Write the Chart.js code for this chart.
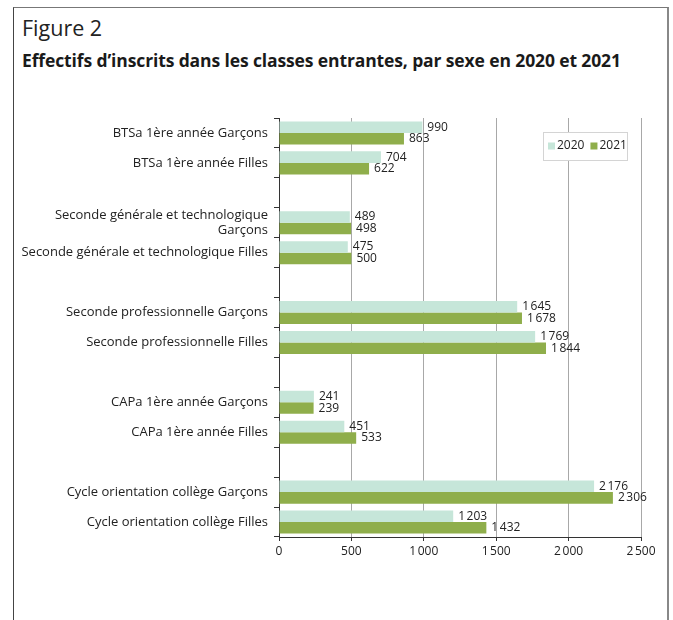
<!DOCTYPE html>
<html>
<head>
<meta charset="utf-8">
<script src="https://cdn.jsdelivr.net/npm/chart.js@4/dist/chart.umd.min.js"></script>
<style>
  html, body { margin: 0; padding: 0; background: #fff; }
  #wrap { position: relative; width: 673px; height: 620px; overflow: hidden; }
  #frame { position: absolute; left: 13px; top: 7px; width: 653px; height: 700px;
           border-left: 1px solid #444; border-top: 1px solid #777; border-right: 2px solid #888; }
  #t1 { position: absolute; left: 22px; top: 13px; font: 400 21.5px "Open Sans", sans-serif; color: #222; }
  #t2 { position: absolute; left: 22px; top: 48px; font: 700 17.5px "Open Sans", sans-serif; color: #1a1a1a; letter-spacing: -0.12px; white-space: nowrap; }
  canvas { position: absolute; left: 0; top: 0; }
</style>
</head>
<body>
<div id="wrap">
  <div id="frame"></div>
  <div id="t1">Figure 2</div>
  <div id="t2">Effectifs d’inscrits dans les classes entrantes, par sexe en 2020 et 2021</div>
  <canvas id="c" width="673" height="620"></canvas>
</div>
<script>
const categories = [
  "BTSa 1ère année Garçons",
  "BTSa 1ère année Filles",
  "",
  ["Seconde générale et technologique", "Garçons"],
  "Seconde générale et technologique Filles",
  "",
  "Seconde professionnelle Garçons",
  "Seconde professionnelle Filles",
  "",
  "CAPa 1ère année Garçons",
  "CAPa 1ère année Filles",
  "",
  "Cycle orientation collège Garçons",
  "Cycle orientation collège Filles"
];
const values2020 = [990, 704, null, 489, 475, null, 1645, 1769, null, 241, 451, null, 2176, 1203];
const values2021 = [863, 622, null, 498, 500, null, 1678, 1844, null, 239, 533, null, 2306, 1432];
const seriesNames = ["2020", "2021"];
const xTicks = [0, 500, 1000, 1500, 2000, 2500];

const fmt = v => {
  const s = String(Math.round(v));
  return s.replace(/\B(?=(\d{3})+(?!\d))/g, "\u202F");
};
const FONT = '"Open Sans", sans-serif';

const labelPlugin = {
  id: 'barLabels',
  afterDatasetsDraw(chart) {
    const ctx = chart.ctx;
    ctx.save();
    ctx.font = '12px ' + FONT;
    ctx.fillStyle = '#222';
    ctx.textAlign = 'left';
    ctx.textBaseline = 'middle';
    chart.data.datasets.forEach((ds, di) => {
      const meta = chart.getDatasetMeta(di);
      meta.data.forEach((el, i) => {
        const v = ds.data[i];
        if (v == null) return;
        ctx.fillText(fmt(v), el.x + 5, el.y);
      });
    });
    ctx.restore();
  }
};

const legendPlugin = {
  id: 'boxLegend',
  afterDraw(chart) {
    const ctx = chart.ctx;
    ctx.save();
    const x0 = 543, y0 = 132, w = 84, h = 28;
    ctx.fillStyle = '#fff';
    ctx.fillRect(x0, y0, w, h);
    ctx.strokeStyle = '#d4d4d4';
    ctx.lineWidth = 1;
    ctx.strokeRect(x0 + 0.5, y0 + 0.5, w, h);
    ctx.font = '12px ' + FONT;
    ctx.textBaseline = 'middle';
    ctx.fillStyle = '#222';
    let x = x0 + 5;
    const yc = y0 + h / 2;
    chart.data.datasets.forEach((ds) => {
      ctx.fillStyle = ds.backgroundColor;
      ctx.fillRect(x, yc - 3.5, 7, 7);
      ctx.fillStyle = '#222';
      ctx.fillText(ds.label, x + 9, yc);
      x += 9 + ctx.measureText(ds.label).width + 6;
    });
    ctx.restore();
  }
};

new Chart(document.getElementById('c'), {
  type: 'bar',
  data: {
    labels: categories,
    datasets: [
      { label: seriesNames[0], data: values2020, backgroundColor: '#c6e6d9', borderWidth: 0,
        categoryPercentage: 0.77, barPercentage: 1.0 },
      { label: seriesNames[1], data: values2021, backgroundColor: '#8fae4b', borderWidth: 0,
        categoryPercentage: 0.77, barPercentage: 1.0 }
    ]
  },
  options: {
    indexAxis: 'y',
    responsive: false,
    animation: false,
    layout: { padding: { top: 118, right: 32, left: 0, bottom: 0 } },
    plugins: { legend: { display: false }, tooltip: { enabled: false } },
    scales: {
      x: {
        min: 0, max: 2500,
        afterBuildTicks(s) { s.ticks = xTicks.map(v => ({ value: v })); },
        afterFit(s) { s.height = 83; },
        grid: { color: '#a8a8a8', tickColor: '#333', tickLength: 4, lineWidth: 1 },
        border: { display: true, color: '#333', width: 1 },
        ticks: { font: { family: FONT, size: 12 }, color: '#222', padding: 3, callback: v => fmt(v) }
      },
      y: {
        afterFit(s) { s.width = 279; },
        grid: { display: true, drawOnChartArea: false, drawTicks: true, tickLength: 5, color: '#333', offset: true },
        border: { display: true, color: '#333', width: 1 },
        ticks: { font: { family: FONT, size: 13 }, color: '#222', padding: 6, autoSkip: false }
      }
    }
  },
  plugins: [labelPlugin, legendPlugin]
});
</script>
</body>
</html>
